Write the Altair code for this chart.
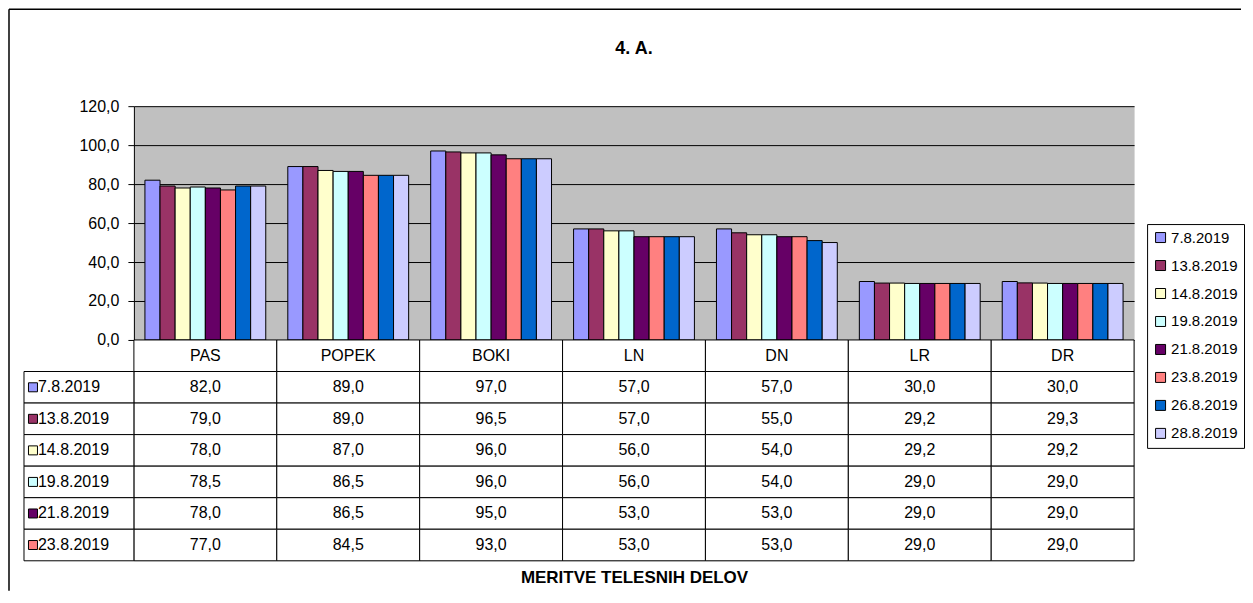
import altair as alt
import pandas as pd

FONT = "Liberation Sans"

categories = ["PAS", "POPEK", "BOKI", "LN", "DN", "LR", "DR"]
dates = ["7.8.2019", "13.8.2019", "14.8.2019", "19.8.2019",
         "21.8.2019", "23.8.2019", "26.8.2019", "28.8.2019"]
colors = ["#9999FF", "#993366", "#FFFFCC", "#CCFFFF",
          "#660066", "#FF8080", "#0066CC", "#CCCCFF"]

v_0708 = [82.0, 89.0, 97.0, 57.0, 57.0, 30.0, 30.0]
v_1308 = [79.0, 89.0, 96.5, 57.0, 55.0, 29.2, 29.3]
v_1408 = [78.0, 87.0, 96.0, 56.0, 54.0, 29.2, 29.2]
v_1908 = [78.5, 86.5, 96.0, 56.0, 54.0, 29.0, 29.0]
v_2108 = [78.0, 86.5, 95.0, 53.0, 53.0, 29.0, 29.0]
v_2308 = [77.0, 84.5, 93.0, 53.0, 53.0, 29.0, 29.0]
v_2608 = [79.0, 84.5, 93.0, 53.0, 51.0, 29.0, 29.0]
v_2808 = [79.0, 84.5, 93.0, 53.0, 50.0, 29.0, 29.0]

y_ticks = [0, 20, 40, 60, 80, 100, 120]

series_values = [v_0708, v_1308, v_1408, v_1908, v_2108, v_2308, v_2608, v_2808]
table_dates = dates[:6]


def fmt(v):
    return f"{v:.1f}".replace(".", ",")


bars_df = pd.DataFrame(
    [{"cat": c, "series": d, "value": v}
     for d, vals in zip(dates, series_values)
     for c, v in zip(categories, vals)]
)
cells_df = pd.DataFrame(
    [{"row": "hdr", "cat": c, "label": c} for c in categories]
    + [{"row": d, "cat": c, "label": fmt(v)}
       for d, vals in zip(table_dates, series_values[:6])
       for c, v in zip(categories, vals)]
)
rows_df = pd.DataFrame({"row": table_dates, "series": table_dates})
one_df = pd.DataFrame({"k": [0]})

PLOT_W = 1001
BAR_H = 234
TABLE_H = 221
H = BAR_H + TABLE_H

x_enc = alt.X(
    "cat:N", sort=categories,
    scale=alt.Scale(domain=categories, paddingInner=0, paddingOuter=0),
    axis=alt.Axis(title="MERITVE TELESNIH DELOV", labels=False, ticks=False,
                  domain=False, grid=False, titleFont=FONT, titleFontSize=17,
                  titleFontWeight="bold", titleColor="black", titlePadding=9),
)

color_enc = alt.Color(
    "series:N", sort=dates,
    scale=alt.Scale(domain=dates, range=colors),
    legend=alt.Legend(
        title=None, orient="none", legendX=1014, legendY=118,
        strokeColor="black", fillColor="white", padding=6,
        symbolType="square", symbolSize=100, symbolStrokeColor="black",
        symbolStrokeWidth=1, symbolOpacity=1,
        labelFont=FONT, labelFontSize=15, labelColor="black",
        rowPadding=12, labelOffset=3,
    ),
)

y_row = alt.Y(
    "row:N", sort=["hdr"] + table_dates,
    scale=alt.Scale(domain=["hdr"] + table_dates, range=[BAR_H, H],
                    paddingInner=0, paddingOuter=0),
    axis=None,
)

bars = alt.Chart(bars_df).mark_bar(stroke="black", strokeWidth=1).encode(
    x=x_enc,
    xOffset=alt.XOffset("series:N", sort=dates,
                        scale=alt.Scale(domain=dates, paddingInner=0, paddingOuter=0.73)),
    y=alt.Y("value:Q",
            scale=alt.Scale(domain=[0, 120], range=[BAR_H, 0], nice=False),
            axis=alt.Axis(title=None, values=y_ticks,
                          labelExpr="replace(format(datum.value, '.1f'), '.', ',')",
                          grid=True, gridColor="black", gridWidth=1,
                          domainColor="black", domainWidth=1,
                          tickColor="black", tickSize=6, labelPadding=9,
                          labelFont=FONT, labelFontSize=16, labelColor="black")),
    color=color_enc,
)

cell_rects = alt.Chart(cells_df).mark_rect(fill="white", stroke="black", strokeWidth=1).encode(
    x=x_enc, y=y_row,
)
cell_text = alt.Chart(cells_df).mark_text(font=FONT, fontSize=16, color="black").encode(
    x=x_enc, y=y_row, text="label:N",
)
left_rects = alt.Chart(rows_df).mark_rect(fill="white", stroke="black", strokeWidth=1).encode(
    x=alt.value(-110), x2=alt.value(0), y=y_row,
)
row_labels = alt.Chart(rows_df).mark_text(font=FONT, fontSize=16, color="black", align="left").encode(
    x=alt.value(-96), y=y_row, text="row:N",
)
swatches = alt.Chart(rows_df).mark_point(shape="square", filled=True, size=81, stroke="black",
                                        strokeWidth=1, opacity=1).encode(
    x=alt.value(-101), y=y_row, color=color_enc,
)
frame_left = alt.Chart(one_df).mark_rule(color="black", strokeWidth=1.5).encode(
    x=alt.value(-125), y=alt.value(-97), y2=alt.value(485),
)
frame_top = alt.Chart(one_df).mark_rule(color="black", strokeWidth=1.5).encode(
    y=alt.value(-97), x=alt.value(-125), x2=alt.value(1108),
)

chart = alt.layer(
    bars, cell_rects, cell_text, left_rects, row_labels, swatches, frame_left, frame_top
).resolve_scale(y="independent").properties(
    width=PLOT_W, height=H,
    padding={"left": 0, "top": 0, "right": 0, "bottom": 0},
    title=alt.Title("4. A.", font=FONT, fontSize=18, fontWeight="bold",
                    color="black", anchor="middle", offset=-50),
).configure_view(fill="#C0C0C0", stroke="transparent")

chart.save("out.html", embed_options={"renderer": "svg", "actions": False})
